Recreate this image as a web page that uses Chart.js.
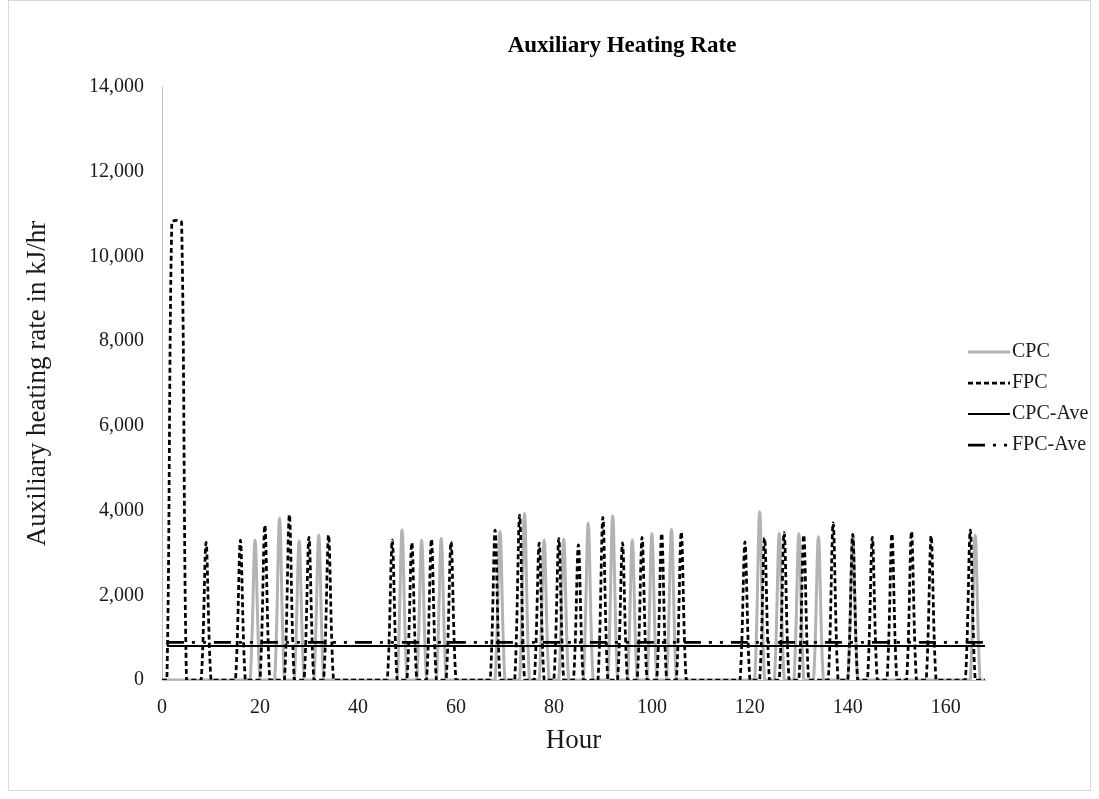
<!DOCTYPE html>
<html>
<head>
<meta charset="utf-8">
<title>Auxiliary Heating Rate</title>
<script src="https://cdn.jsdelivr.net/npm/chart.js@4.4.1/dist/chart.umd.min.js"></script>
<style>
  html, body { margin: 0; padding: 0; background: #fff; }
  #wrap { position: relative; width: 1099px; height: 799px; }
  #frame { position: absolute; left: 8px; top: 0; width: 1081px; height: 789px; border: 1px solid #d9d9d9; pointer-events: none; }
</style>
</head>
<body>
<div id="wrap">
  <canvas id="heatChart" width="1099" height="799"></canvas>
  <div id="frame"></div>
</div>
<script>
// hour of the week (0 - 168)
const hours = [
  0, 1, 2, 3, 4, 5, 6, 7, 8, 9, 10, 11, 12, 13, 14, 15, 16, 17, 18, 19, 20, 21, 22, 23,
  24, 25, 26, 27, 28, 29, 30, 31, 32, 33, 34, 35, 36, 37, 38, 39, 40, 41, 42, 43, 44, 45, 46, 47,
  48, 49, 50, 51, 52, 53, 54, 55, 56, 57, 58, 59, 60, 61, 62, 63, 64, 65, 66, 67, 68, 69, 70, 71,
  72, 73, 74, 75, 76, 77, 78, 79, 80, 81, 82, 83, 84, 85, 86, 87, 88, 89, 90, 91, 92, 93, 94, 95,
  96, 97, 98, 99, 100, 101, 102, 103, 104, 105, 106, 107, 108, 109, 110, 111, 112, 113, 114, 115, 116, 117, 118, 119,
  120, 121, 122, 123, 124, 125, 126, 127, 128, 129, 130, 131, 132, 133, 134, 135, 136, 137, 138, 139, 140, 141, 142, 143,
  144, 145, 146, 147, 148, 149, 150, 151, 152, 153, 154, 155, 156, 157, 158, 159, 160, 161, 162, 163, 164, 165, 166, 167, 168
];

// kJ/hr, one row per day
const cpcRate = [
  0, 0, 0, 0, 0, 0, 0, 0, 0, 0, 0, 0, 0, 0, 0, 0, 0, 0, 0, 3300, 0, 0, 0, 0,
  3820, 0, 0, 0, 3280, 0, 0, 0, 3420, 0, 0, 0, 0, 0, 0, 0, 0, 0, 0, 0, 0, 0, 0, 0,
  0, 3540, 0, 0, 0, 3300, 0, 0, 0, 3340, 0, 0, 0, 0, 0, 0, 0, 0, 0, 0, 0, 3500, 0, 0,
  0, 0, 3930, 0, 0, 0, 3300, 0, 0, 0, 3320, 0, 0, 0, 0, 3700, 0, 0, 0, 0, 3870, 0, 0, 0,
  3300, 0, 0, 0, 3450, 0, 0, 0, 3560, 0, 0, 0, 0, 0, 0, 0, 0, 0, 0, 0, 0, 0, 0, 0,
  0, 0, 3970, 0, 0, 0, 3460, 0, 0, 0, 3450, 0, 0, 0, 3380, 0, 0, 0, 0, 0, 0, 3440, 0, 0,
  0, 0, 0, 0, 0, 0, 0, 0, 0, 0, 0, 0, 0, 0, 0, 0, 0, 0, 0, 0, 0, 0, 3420, 0, 0
];

const fpcRate = [
  0, 0, 10800, 10850, 10800, 0, 0, 0, 0, 3250, 0, 0, 0, 0, 0, 0, 3300, 0, 0, 0, 0, 3650, 0, 0,
  0, 0, 3900, 0, 0, 0, 3370, 0, 0, 0, 3420, 0, 0, 0, 0, 0, 0, 0, 0, 0, 0, 0, 0, 3300,
  0, 0, 0, 3240, 0, 0, 0, 3320, 0, 0, 0, 3260, 0, 0, 0, 0, 0, 0, 0, 0, 3540, 0, 0, 0,
  0, 3890, 0, 0, 0, 3230, 0, 0, 0, 3340, 0, 0, 0, 3190, 0, 0, 0, 0, 3840, 0, 0, 0, 3240, 0,
  0, 0, 3370, 0, 0, 0, 3460, 0, 0, 0, 3490, 0, 0, 0, 0, 0, 0, 0, 0, 0, 0, 0, 0, 3260,
  0, 0, 0, 3350, 0, 0, 0, 3480, 0, 0, 0, 3420, 0, 0, 0, 0, 0, 3710, 0, 0, 0, 3440, 0, 0,
  0, 3370, 0, 0, 0, 3450, 0, 0, 0, 3500, 0, 0, 0, 3400, 0, 0, 0, 0, 0, 0, 0, 3540, 0, 0, 0
];

// weekly averages, drawn as flat lines
const aveSpan = [1, 168];
const cpcAve = [800, 800];
const fpcAve = [890, 890];

const seriesNames = ['CPC', 'FPC', 'CPC-Ave', 'FPC-Ave'];

Chart.defaults.font.family = "'Liberation Serif', 'Times New Roman', serif";
Chart.defaults.color = '#1a1a1a';

const titlePlugin = {
  id: 'chartTitle',
  afterDraw(chart) {
    const ctx = chart.ctx;
    ctx.save();
    ctx.font = "bold 23px 'Liberation Serif', serif";
    ctx.fillStyle = '#000';
    ctx.textAlign = 'center';
    ctx.textBaseline = 'middle';
    ctx.fillText('Auxiliary Heating Rate', 622, 46);
    ctx.restore();
  }
};

// legend sits partly over the plot, like the original
const sideLegend = {
  id: 'sideLegend',
  afterDraw(chart) {
    const ctx = chart.ctx;
    let y = 352;
    chart.data.datasets.forEach(ds => {
      ctx.save();
      ctx.strokeStyle = ds.borderColor;
      ctx.lineWidth = ds.borderWidth;
      ctx.setLineDash(ds.borderDash || []);
      ctx.beginPath();
      ctx.moveTo(968, y);
      ctx.lineTo(1010, y);
      ctx.stroke();
      ctx.setLineDash([]);
      ctx.font = "20px 'Liberation Serif', serif";
      ctx.fillStyle = '#1a1a1a';
      ctx.textBaseline = 'middle';
      ctx.fillText(ds.label, 1012, y);
      ctx.restore();
      y += 31;
    });
  }
};

const ctx = document.getElementById('heatChart').getContext('2d');

chart = new Chart(ctx, {
  type: 'line',
  data: {
    labels: hours,
    datasets: [
      {
        label: seriesNames[0],
        data: cpcRate,
        borderColor: '#b3b3b3',
        borderWidth: 3,
        pointRadius: 0,
        tension: 0.3,
        order: 3
      },
      {
        label: seriesNames[1],
        data: fpcRate,
        borderColor: '#000',
        borderWidth: 2.75,
        borderDash: [5, 3],
        pointRadius: 0,
        tension: 0.3,
        order: 2
      },
      {
        label: seriesNames[2],
        data: aveSpan.map((h, i) => ({ x: h, y: cpcAve[i] })),
        borderColor: '#000',
        borderWidth: 2,
        pointRadius: 0,
        order: 1
      },
      {
        label: seriesNames[3],
        data: aveSpan.map((h, i) => ({ x: h, y: fpcAve[i] })),
        borderColor: '#000',
        borderWidth: 2.75,
        borderDash: [17, 8, 3, 8, 3, 8],
        pointRadius: 0,
        order: 0
      }
    ]
  },
  options: {
    responsive: false,
    animation: false,
    devicePixelRatio: 1,
    layout: { padding: { left: 0, top: 87, right: 114, bottom: 19 } },
    plugins: {
      legend: { display: false },
      tooltip: { enabled: false },
      title: { display: false }
    },
    scales: {
      x: {
        type: 'linear',
        min: 0,
        max: 168,
        afterFit: s => { s.height = 100; },
        grid: { display: true, drawOnChartArea: false, drawTicks: false },
        border: { color: '#bfbfbf', width: 1 },
        ticks: {
          stepSize: 20,
          includeBounds: false,
          padding: 16,
          maxRotation: 0,
          font: { size: 20 },
          callback: v => (v % 20 === 0 ? v : '')
        },
        title: {
          display: true,
          text: 'Hour',
          font: { size: 27 },
          padding: { top: 0, bottom: 23 }
        }
      },
      y: {
        min: 0,
        max: 14000,
        afterFit: s => { s.width = 162; },
        grid: { display: true, drawOnChartArea: false, drawTicks: false },
        border: { color: '#bfbfbf', width: 1 },
        ticks: {
          stepSize: 2000,
          padding: 18,
          font: { size: 20 },
          callback: v => v.toLocaleString('en-US')
        },
        title: {
          display: true,
          text: 'Auxiliary heating rate in kJ/hr',
          font: { size: 27 },
          padding: { top: 22, bottom: 0 }
        }
      }
    }
  },
  plugins: [titlePlugin, sideLegend]
});
</script>
</body>
</html>
